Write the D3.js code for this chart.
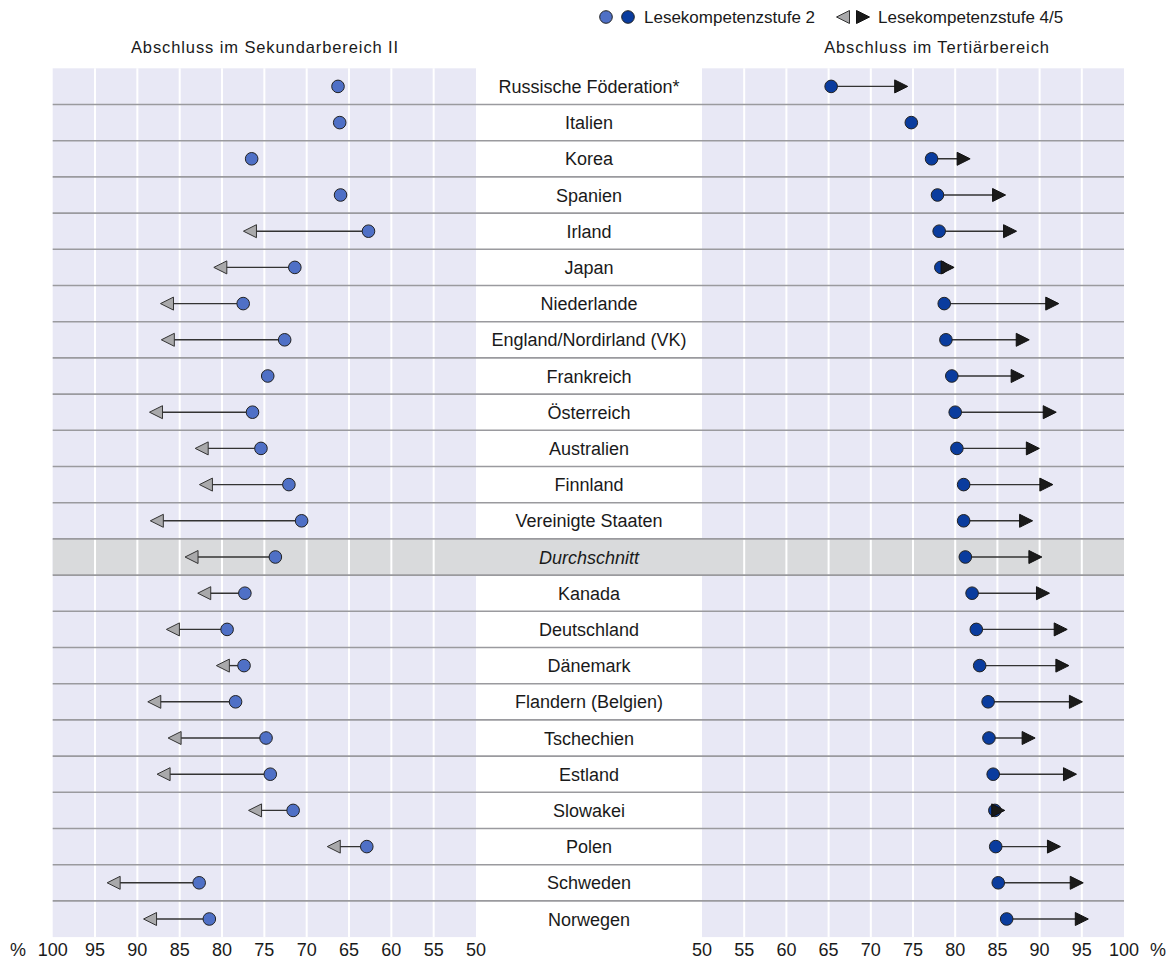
<!DOCTYPE html>
<html><head><meta charset="utf-8">
<script src="https://cdn.jsdelivr.net/npm/d3@7"></script>
<style>body{margin:0;background:#fff}svg text{font-family:"Liberation Sans",Arial,sans-serif;fill:#1a1a1a}</style>
</head><body>
<script>
const countries = ["Russische Föderation*","Italien","Korea","Spanien","Irland","Japan","Niederlande","England/Nordirland (VK)","Frankreich","Österreich","Australien","Finnland","Vereinigte Staaten","Durchschnitt","Kanada","Deutschland","Dänemark","Flandern (Belgien)","Tschechien","Estland","Slowakei","Polen","Schweden","Norwegen"];
// Abschluss im Sekundarbereich II
const secLevel2  = [66.3,66.1,76.5,66.0,62.7,71.4,77.5,72.6,74.6,76.4,75.4,72.1,70.6,73.7,77.3,79.4,77.4,78.4,74.8,74.3,71.6,62.9,82.7,81.5];
const secLevel45 = [null,null,null,null,76.7,80.2,86.5,86.4,null,87.8,82.4,81.9,87.7,83.6,82.1,85.8,79.9,88.0,85.6,86.9,76.1,66.8,92.8,88.5];
// Abschluss im Tertiärbereich
const terLevel2  = [65.3,74.8,77.2,77.9,78.1,78.3,78.7,78.9,79.6,80.0,80.2,81.0,81.0,81.2,82.0,82.5,82.9,83.9,84.0,84.5,84.7,84.8,85.1,86.1];
const terLevel45 = [73.6,null,81.0,85.2,86.5,79.1,91.5,88.0,87.4,91.2,89.2,90.8,88.4,89.5,90.4,92.5,92.7,94.3,88.7,93.6,85.1,91.7,94.4,95.0];
const ticks = [100,95,90,85,80,75,70,65,60,55,50];
const panelTitles = ["Abschluss im Sekundarbereich II","Abschluss im Tertiärbereich"];
const legendLabels = ["Lesekompetenzstufe 2","Lesekompetenzstufe 4/5"];

const W=1172,H=959;
const svg=d3.select("body").append("svg").attr("width",W).attr("height",H);
const top0=68.3, rowH=36.2;
const y=d3.scaleBand().domain(countries).range([top0, top0+rowH*countries.length]);
const xL=d3.scaleLinear().domain([100,50]).range([52.7,476]);
const xR=d3.scaleLinear().domain([50,100]).range([702,1124]);
const bg="#e8e8f5", avgBg="#d9dadc", circL="#4f70c6", circR="#0a3c9e";
const avgIdx=countries.indexOf("Durchschnitt");

// panel backgrounds
svg.append("rect").attr("x",xL(100)).attr("y",top0).attr("width",xL(50)-xL(100)).attr("height",rowH*countries.length).attr("fill",bg);
svg.append("rect").attr("x",xR(50)).attr("y",top0).attr("width",xR(100)-xR(50)).attr("height",rowH*countries.length).attr("fill",bg);
// average row
svg.append("rect").attr("x",xL(100)).attr("y",y("Durchschnitt")).attr("width",xR(100)-xL(100)).attr("height",rowH).attr("fill",avgBg);
// vertical grid
[[xL,ticks],[xR,ticks]].forEach(([sc,t])=>{
  svg.append("g").selectAll("line").data(t.filter(v=>v!==100&&v!==50)).join("line")
   .attr("x1",d=>sc(d)).attr("x2",d=>sc(d)).attr("y1",top0).attr("y2",top0+rowH*countries.length)
   .attr("stroke","#fff").attr("stroke-width",2);
});
// horizontal row separators
svg.append("g").selectAll("line").data(countries.slice(1)).join("line")
  .attr("x1",xL(100)).attr("x2",xR(100)).attr("y1",d=>y(d)).attr("y2",d=>y(d))
  .attr("stroke","#9a9a9e").attr("stroke-width",1.6);

// labels
svg.append("g").selectAll("text").data(countries).join("text")
  .attr("x",589).attr("y",d=>y(d)+rowH/2+6.5).attr("text-anchor","middle")
  .attr("font-size",18).attr("font-style",(d,i)=>i===avgIdx?"italic":"normal").text(d=>d);

// axes
function axis(sc,yPos){
  svg.append("g").selectAll("text").data(ticks).join("text")
   .attr("x",d=>sc(d)).attr("y",yPos).attr("text-anchor","middle").attr("font-size",18).text(d=>d);
}
axis(xL,956); axis(xR,956);
svg.append("text").attr("x",18).attr("y",956).attr("text-anchor","middle").attr("font-size",18).text("%");
svg.append("text").attr("x",1158).attr("y",956).attr("text-anchor","middle").attr("font-size",18).text("%");

// titles
svg.append("text").attr("x",265).attr("y",53).attr("text-anchor","middle").attr("font-size",16.5).attr("letter-spacing",0.9).text(panelTitles[0]);
svg.append("text").attr("x",937).attr("y",53).attr("text-anchor","middle").attr("font-size",16.5).attr("letter-spacing",0.9).text(panelTitles[1]);

const triW=13, triH=13;
function tri(cx,cy,dir){ // dir -1 left, 1 right
  const tip=cx+dir*triW/2, base=cx-dir*triW/2;
  return `M${tip},${cy} L${base},${cy-triH/2} L${base},${cy+triH/2} Z`;
}
function panel(sc,l2,l45,circColor,triFill,dir){
  const g=svg.append("g");
  countries.forEach((c,i)=>{
    const cy=y(c)+rowH/2;
    if(l45[i]!=null){
      g.append("line").attr("x1",sc(l2[i])).attr("x2",sc(l45[i])).attr("y1",cy).attr("y2",cy)
       .attr("stroke","#333").attr("stroke-width",1.4);
    }
    g.append("circle").attr("cx",sc(l2[i])).attr("cy",cy).attr("r",6.3)
      .attr("fill",circColor).attr("stroke","#222").attr("stroke-width",1);
    if(l45[i]!=null){
      g.append("path").attr("d",tri(sc(l45[i]),cy,dir)).attr("fill",triFill)
       .attr("stroke",dir<0?"#333":"#111").attr("stroke-width",1);
    }
  });
}
panel(xL,secLevel2,secLevel45,circL,"#a9a9ab",-1);
panel(xR,terLevel2,terLevel45,circR,"#1a1a1a",1);

// legend
const lg=svg.append("g");
lg.append("circle").attr("cx",606).attr("cy",17).attr("r",6.3).attr("fill",circL).attr("stroke","#222");
lg.append("circle").attr("cx",628).attr("cy",17).attr("r",6.3).attr("fill",circR).attr("stroke","#222");
lg.append("text").attr("x",644).attr("y",23).attr("font-size",17).text(legendLabels[0]);
lg.append("path").attr("d",tri(843,17,-1)).attr("fill","#a9a9ab").attr("stroke","#333");
lg.append("path").attr("d",tri(863,17,1)).attr("fill","#1a1a1a").attr("stroke","#111");
lg.append("text").attr("x",878).attr("y",23).attr("font-size",17).text(legendLabels[1]);
</script>
</body></html>
